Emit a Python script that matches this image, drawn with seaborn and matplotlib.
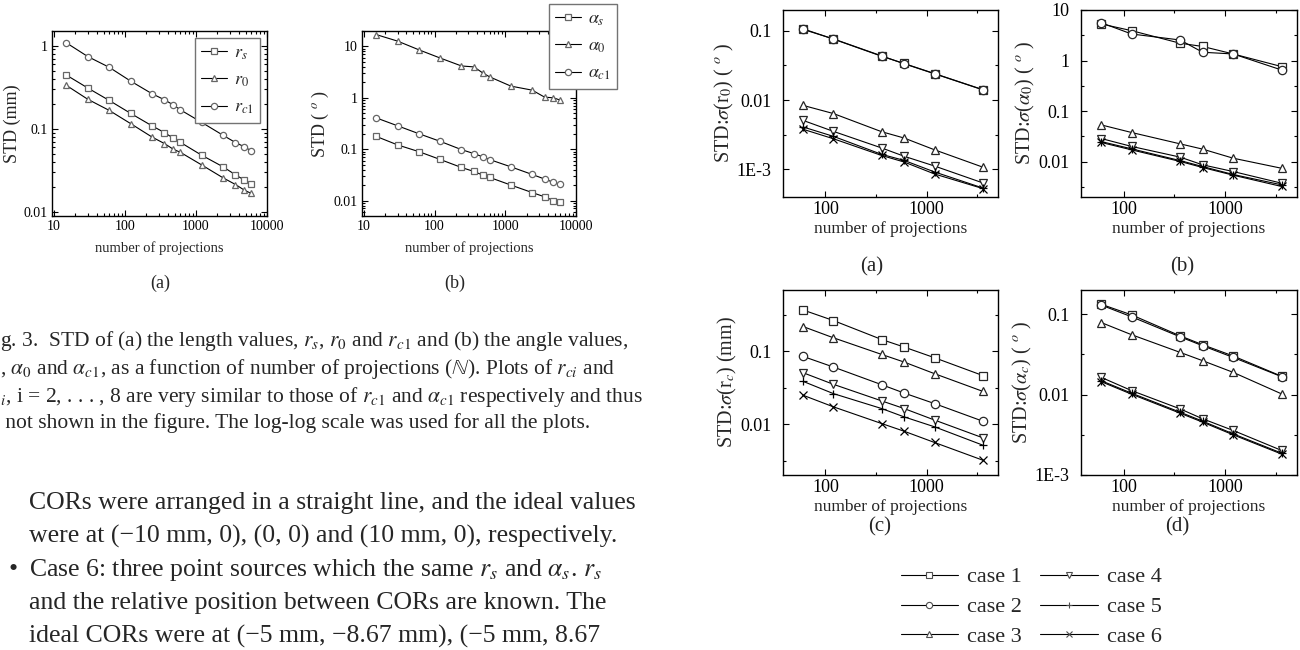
import numpy as np
import pandas as pd
import matplotlib
matplotlib.use("Agg")
import matplotlib.pyplot as plt
from matplotlib.lines import Line2D
from matplotlib.ticker import LogLocator, FixedLocator, NullFormatter
import seaborn as sns

# ---------------- data ----------------
# left figure (Fig. 3): 13 projection counts
n_left = [15, 30, 60, 120, 240, 360, 480, 600, 1200, 2400, 3600, 4800, 6000]
r_s = [0.443, 0.31, 0.22, 0.154, 0.109, 0.0904, 0.0773, 0.0692, 0.0484, 0.0351, 0.0281, 0.0243, 0.0221]
r_0 = [0.333, 0.227, 0.167, 0.116, 0.080, 0.0667, 0.057, 0.0525, 0.037, 0.0259, 0.0215, 0.0184, 0.0168]
r_c1 = [1.08, 0.74, 0.55, 0.376, 0.265, 0.224, 0.194, 0.17, 0.12, 0.084, 0.0686, 0.061, 0.0545]
alpha_s = [0.177, 0.121, 0.0895, 0.063, 0.044, 0.0368, 0.0313, 0.0282, 0.02, 0.0143, 0.0118, 0.01, 0.0092]
alpha_0 = [17.0, 12.7, 8.6, 5.95, 4.17, 4.0, 3.05, 2.56, 1.69, 1.41, 1.03, 1.0, 0.9]
alpha_c1 = [0.406, 0.285, 0.2, 0.142, 0.098, 0.082, 0.071, 0.0628, 0.0453, 0.0322, 0.0262, 0.0226, 0.0207]

# right figure: 6 cases, 6 projection counts
n_right = [60, 120, 360, 600, 1200, 3600]
cases = ["case 1", "case 2", "case 3", "case 4", "case 5", "case 6"]
sig_r0 = [
    [0.107, 0.076, 0.043, 0.0338, 0.0242, 0.0142],
    [0.105, 0.0765, 0.0435, 0.0335, 0.0240, 0.0141],
    [0.0084, 0.0064, 0.0035, 0.00284, 0.00192, 0.00108],
    [0.0051, 0.00354, 0.00204, 0.00155, 0.00112, 0.00064],
    [0.0041, 0.0030, 0.00165, 0.00135, 0.00092, 0.00054],
    [0.0038, 0.00277, 0.00159, 0.00128, 0.00086, 0.00053],
]
sig_a0 = [
    [5.3, 3.9, 2.2, 1.9, 1.35, 0.76],
    [5.6, 3.35, 2.55, 1.46, 1.35, 0.65],
    [0.0534, 0.0377, 0.0225, 0.0177, 0.0117, 0.0074],
    [0.0287, 0.02, 0.0123, 0.00865, 0.00638, 0.00375],
    [0.025, 0.0179, 0.0105, 0.008, 0.00557, 0.00348],
    [0.024, 0.0171, 0.0101, 0.00766, 0.0054, 0.00323],
]
sig_rc = [
    [0.372, 0.266, 0.146, 0.115, 0.082, 0.0467],
    [0.0855, 0.061, 0.0349, 0.0268, 0.0192, 0.011],
    [0.22, 0.154, 0.091, 0.0715, 0.0495, 0.0283],
    [0.051, 0.0353, 0.0209, 0.0164, 0.0114, 0.0065],
    [0.0388, 0.0263, 0.0164, 0.0126, 0.0092, 0.00515],
    [0.025, 0.0173, 0.0102, 0.008, 0.0056, 0.0032],
]
sig_ac = [
    [0.133, 0.098, 0.0538, 0.0417, 0.0302, 0.0169],
    [0.13, 0.0927, 0.0523, 0.0405, 0.029, 0.0167],
    [0.0788, 0.0555, 0.0335, 0.0264, 0.0189, 0.0102],
    [0.0164, 0.0112, 0.00664, 0.005, 0.00358, 0.00202],
    [0.0149, 0.0104, 0.00604, 0.00467, 0.00325, 0.00187],
    [0.0145, 0.0101, 0.00587, 0.00454, 0.00316, 0.00182],
]

sns.set_theme(style="ticks")
plt.rcParams["font.family"] = ["Liberation Serif", "DejaVu Serif"]
plt.rcParams["mathtext.fontset"] = "stix"

W, H = 1300, 650
fig = plt.figure(figsize=(13, 6.5), dpi=100)


def box(x0, y0, x1, y1):
    # pixel box -> figure fraction rect
    return [x0 / W, 1 - y1 / H, (x1 - x0) / W, (y1 - y0) / H]


def long_df(x, names, values):
    rows = []
    for nm, vals in zip(names, values):
        for xx, v in zip(x, vals):
            rows.append({"n": xx, "std": v, "series": nm})
    return pd.DataFrame(rows)


def draw(ax, df, order, markers, edge, ms):
    sns.lineplot(data=df, x="n", y="std", hue="series", style="series",
                 hue_order=order, style_order=order,
                 palette={k: "black" for k in order}, markers=markers,
                 dashes=False, markersize=ms, markeredgecolor=edge,
                 markerfacecolor="white", markeredgewidth=0.9, linewidth=0.8,
                 estimator=None, legend=False, ax=ax)


def style_axes(ax, xlim, ylim, xt, xtl, yt, ytl, fs, minor_dense, pad=3):
    ax.set_xscale("log")
    ax.set_yscale("log")
    ax.set_xlim(*xlim)
    ax.set_ylim(*ylim)
    ax.set_xticks(xt, xtl)
    ax.set_yticks(yt, ytl)
    if minor_dense:
        ax.xaxis.set_minor_locator(LogLocator(subs=np.arange(2, 10)))
        ax.yaxis.set_minor_locator(LogLocator(subs=np.arange(2, 10)))
    else:
        ax.xaxis.set_minor_locator(FixedLocator([10 ** (k + 0.5) for k in range(-5, 5)]))
        ax.yaxis.set_minor_locator(FixedLocator([10 ** (k + 0.5) for k in range(-5, 5)]))
    ax.xaxis.set_minor_formatter(NullFormatter())
    ax.yaxis.set_minor_formatter(NullFormatter())
    ax.tick_params(which="both", direction="in", top=True, right=True,
                   labelsize=fs, colors="black", width=0.8)
    ax.tick_params(axis="y", pad=pad)
    ax.tick_params(axis="x", pad=3)
    ax.tick_params(which="major", length=4)
    ax.tick_params(which="minor", length=2)
    for sp in ax.spines.values():
        sp.set_linewidth(1.0)
        sp.set_color("black")
    ax.set_facecolor("white")


leg_kw = dict(bbox_transform=fig.transFigure, fancybox=False, edgecolor="0.45",
              framealpha=1, fontsize=13, handlelength=1.4, handletextpad=0.4,
              borderpad=0.35, labelspacing=0.55, borderaxespad=0)

# ---------------- Fig. 3 (left) ----------------
left_markers = {"s": "s", "0": "^", "c1": "o"}

ax1 = fig.add_axes(box(52, 31, 267, 216))
df1 = long_df(n_left, ["s", "0", "c1"], [r_s, r_0, r_c1])
draw(ax1, df1, ["s", "0", "c1"], left_markers, "0.4", 4.5)
style_axes(ax1, (9.4, 10000), (0.009, 1.5), [10, 100, 1000, 10000],
           ["10", "100", "1000", "10000"], [0.01, 0.1, 1], ["0.01", "0.1", "1"], 10, True)
ax1.set_xlabel("number of projections", fontsize=10.5, labelpad=6)
ax1.set_ylabel("STD (mm)", fontsize=13, labelpad=2)
ax1.legend(handles=ax1.lines[:3], labels=[r"$r_s$", r"$r_0$", r"$r_{c1}$"],
           loc="upper right", bbox_to_anchor=(260 / W, 1 - 38 / H), **leg_kw)

ax2 = fig.add_axes(box(362, 31, 576, 216))
df2 = long_df(n_left, ["s", "0", "c1"], [alpha_s, alpha_0, alpha_c1])
draw(ax2, df2, ["s", "0", "c1"], left_markers, "0.4", 4.5)
style_axes(ax2, (9.4, 10000), (0.005, 20), [10, 100, 1000, 10000],
           ["10", "100", "1000", "10000"], [0.01, 0.1, 1, 10],
           ["0.01", "0.1", "1", "10"], 10, True)
ax2.set_xlabel("number of projections", fontsize=10.5, labelpad=6)
ax2.set_ylabel(r"STD ( $^{o}$ )", fontsize=13, labelpad=2)
ax2.legend(handles=ax2.lines[:3], labels=[r"$\alpha_s$", r"$\alpha_0$", r"$\alpha_{c1}$"],
           loc="upper left", bbox_to_anchor=(549 / W, 1 - 4 / H), **leg_kw)

fig.text(160 / W, 1 - 283 / H, "(a)", ha="center", va="center", fontsize=13)
fig.text(455 / W, 1 - 283 / H, "(b)", ha="center", va="center", fontsize=13)

# caption (the scan is cut at the left page edge)
cap = [
    (341, r"g. 3.  STD of (a) the length values, $r_s$, $r_0$ and $r_{c1}$ and (b) the angle values,"),
    (369, r", $\alpha_0$ and $\alpha_{c1}$, as a function of number of projections ($\mathbb{N}$). Plots of $r_{ci}$ and"),
    (397, r"$_i$, i = 2, . . . , 8 are very similar to those of $r_{c1}$ and $\alpha_{c1}$ respectively and thus"),
    (423, r" not shown in the figure. The log-log scale was used for all the plots."),
]
for y, s in cap:
    fig.text(0, 1 - y / H, s, ha="left", va="center", fontsize=15.5)

body = [
    (503, "CORs were arranged in a straight line, and the ideal values"),
    (536, "were at (\u221210 mm, 0), (0, 0) and (10 mm, 0), respectively."),
    (570, r"Case 6: three point sources which the same $r_s$ and $\alpha_s$. $r_s$"),
    (603, "and the relative position between CORs are known. The"),
    (636, "ideal CORs were at (\u22125 mm, \u22128.67 mm), (\u22125 mm, 8.67"),
]
for y, s in body:
    fig.text(29 / W, 1 - y / H, s, ha="left", va="center", fontsize=18.5)
fig.text(8 / W, 1 - 570 / H, "\u2022", ha="left", va="center", fontsize=18.5)

# ---------------- right figure ----------------
m_fill = {"case 1": "s", "case 2": "o", "case 3": "^", "case 4": "v"}
m_line = {"case 5": "+", "case 6": "x"}


def right_panel(rect, values):
    ax = fig.add_axes(box(*rect))
    d = long_df(n_right, cases, values)
    draw(ax, d[d.series.isin(cases[:4])], cases[:4], m_fill, "0.15", 6)
    draw(ax, d[d.series.isin(cases[4:])], cases[4:], m_line, "black", 6)
    return ax


xr = (38, 5100)
axa = right_panel((783, 10, 998, 197), sig_r0)
style_axes(axa, xr, (0.0004, 0.2), [100, 1000], ["100", "1000"],
           [0.001, 0.01, 0.1], ["1E-3", "0.01", "0.1"], 13, False, pad=8)
axa.set_ylabel(r"STD:$\sigma$(r$_0$) ( $^{o}$ )", fontsize=14.5, labelpad=1)

axb = right_panel((1081, 10, 1297, 197), sig_a0)
style_axes(axb, xr, (0.002, 10), [100, 1000], ["100", "1000"],
           [0.01, 0.1, 1, 10], ["0.01", "0.1", "1", "10"], 13, False, pad=8)
axb.set_ylabel(r"STD:$\sigma$($\alpha_0$) ( $^{o}$ )", fontsize=14.5, labelpad=1)

axc = right_panel((783, 290, 998, 475), sig_rc)
style_axes(axc, xr, (0.002, 0.7), [100, 1000], ["100", "1000"],
           [0.01, 0.1], ["0.01", "0.1"], 13, False, pad=8)
axc.set_ylabel(r"STD:$\sigma$(r$_c$) (mm)", fontsize=14.5, labelpad=1)

axd = right_panel((1081, 290, 1297, 475), sig_ac)
style_axes(axd, xr, (0.001, 0.2), [100, 1000], ["100", "1000"],
           [0.001, 0.01, 0.1], ["1E-3", "0.01", "0.1"], 13, False, pad=8)
axd.set_ylabel(r"STD:$\sigma$($\alpha_c$) ( $^{o}$ )", fontsize=14.5, labelpad=1)

for ax in (axa, axb, axc, axd):
    ax.set_xlabel("number of projections", fontsize=12.5, labelpad=2)

for x, y, s in [(872, 267, "(a)"), (1182, 267, "(b)"), (880, 527, "(c)"), (1177, 527, "(d)")]:
    fig.text(x / W, 1 - y / H, s, ha="center", va="center", fontsize=15)

handles = [Line2D([], [], color="black", lw=0.8, marker=m,
                  ms=4.5, mfc="white", mec="0.3", mew=0.8)
           for m in ["s", "o", "^", "v", "+", "x"]]
fig.legend(handles=handles, labels=cases, ncol=2, loc="center",
           bbox_to_anchor=(1031 / W, 1 - 607 / H), frameon=False,
           fontsize=16, handlelength=2.6, handletextpad=0.4,
           columnspacing=0.8, labelspacing=0.42)

fig.savefig("out.png", dpi=100, facecolor="white")
